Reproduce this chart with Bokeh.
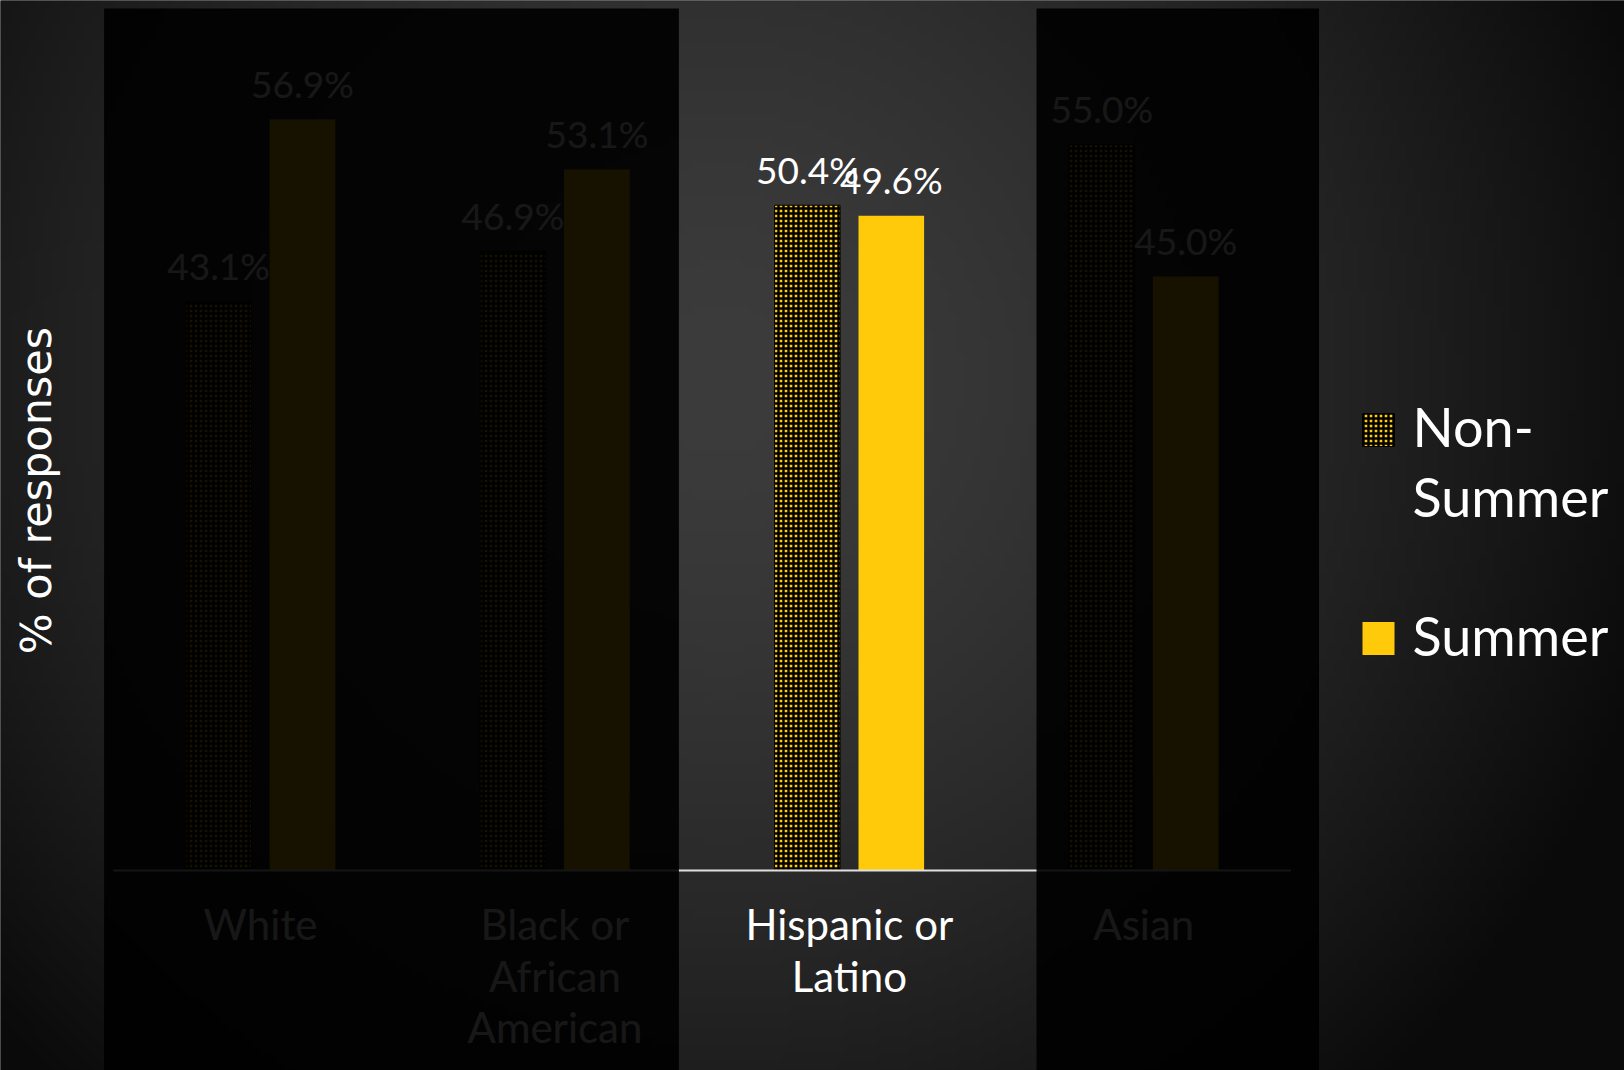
import numpy as np
from bokeh.plotting import figure
from bokeh.models import ColumnDataSource, Range1d
from bokeh.core.properties import value
from bokeh.transform import dodge
from bokeh.embed import file_html
from bokeh.resources import INLINE

# ---------------- data ----------------
categories = ["White", "Black or\nAfrican\nAmerican", "Hispanic or\nLatino", "Asian"]
non_summer = [43.1, 46.9, 50.4, 55.0]
summer = [56.9, 53.1, 49.6, 45.0]
series_names = ["Non-\nSummer", "Summer"]
y_title = "% of responses"

# ---------------- layout (pixels in figure space) ----------------
W, H = 1624, 1070
PX_X, X0 = 294.4, 260.05   # px per category, px of first category centre
PX_Y, Y0 = 13.2, 870.0     # px per percent, px of zero line

def fx(px):
    return (px - X0) / PX_X

def fy(py):
    return (Y0 - py) / PX_Y

YELLOW = "#FFCA0A"
OFF = 41.95 / PX_X
BW = 65.6 / PX_X
LABEL_GAP = 36 / PX_Y

p = figure(width=W, height=H, x_range=Range1d(fx(0), fx(W)), y_range=Range1d(fy(H), fy(0)),
           output_backend="svg", toolbar_location=None, title=None,
           x_axis_location=None, y_axis_location=None, min_border=0,
           outline_line_color=None, background_fill_color="#1c1c1c", border_fill_color="#1c1c1c")
p.grid.visible = False

# ---------------- background radial shading ----------------
gx = np.linspace(0, W, 204)
gy = np.linspace(0, H, 135)
GX, GY = np.meshgrid(gx, gy[::-1])
r = np.hypot((GX - 720) / 1000.0, (GY - 380) / 1000.0)
g = (60 - np.minimum(50, 52.7 * r ** 1.53)).astype(np.uint8)
img = np.empty(g.shape, dtype=np.uint32)
view = img.view(dtype=np.uint8).reshape(g.shape + (4,))
view[..., 0] = g
view[..., 1] = g
view[..., 2] = g
view[..., 3] = 255
p.image_rgba(image=[img], x=fx(0) - 0.02, y=fy(H) - 0.5, dw=fx(W) - fx(0) + 0.04, dh=fy(0) - fy(H) + 1.0)

# ---------------- bars ----------------
idx = np.arange(len(categories))
src = ColumnDataSource(dict(
    x=idx, cat=categories, ns=non_summer, s=summer,
    ns_lbl=[f"{v:.1f}%" for v in non_summer], s_lbl=[f"{v:.1f}%" for v in summer],
    ns_ly=np.array(non_summer) + LABEL_GAP, s_ly=np.array(summer) + LABEL_GAP,
))

hatch_kw = dict(hatch_pattern="cross", hatch_color="black", hatch_scale=5, hatch_weight=2.4)
p.vbar(x=dodge("x", -OFF), top="ns", bottom=0, width=BW, source=src,
       fill_color=YELLOW, line_color="black", line_width=1, **hatch_kw)
p.vbar(x=dodge("x", OFF), top="s", bottom=0, width=BW, source=src,
       fill_color=YELLOW, line_color=None)

lbl_kw = dict(text_font=value("Lato"), text_font_size=value("37px"), text_color="white",
              text_align="center", text_baseline="alphabetic")
p.text(x=dodge("x", -OFF), y="ns_ly", text="ns_lbl", source=src, **lbl_kw)
p.text(x=dodge("x", OFF), y="s_ly", text="s_lbl", source=src, **lbl_kw)

# category labels
p.text(x="x", y=fy(898.7), text="cat", source=src, text_font=value("Lato"),
       text_font_size=value("42px"), text_color="white", text_align="center",
       text_baseline="top", text_line_height=1.03)

# axis line
p.segment(x0=[idx[0] - 0.5], x1=[idx[-1] + 0.5], y0=[0], y1=[0], line_color="#e0e0e0", line_width=2)

# ---------------- dimming panels ----------------
p.quad(left=[fx(103.6), fx(1036)], right=[fx(678.4), fx(1318.5)],
       bottom=[fy(H) - 5, fy(H) - 5], top=[fy(8), fy(8)],
       fill_color="black", fill_alpha=0.91, line_color=None)

# ---------------- legend ----------------
p.rect(x=[fx(1378)], y=[fy(429.5)], width=32, height=33, width_units="screen", height_units="screen",
       fill_color=YELLOW, line_color="black", line_width=1, **hatch_kw)
p.rect(x=[fx(1378)], y=[fy(638)], width=32, height=33, width_units="screen", height_units="screen",
       fill_color=YELLOW, line_color=None)
p.text(x=[fx(1412), fx(1412)], y=[fy(393), fy(602)], text=series_names, text_font=value("Lato"),
       text_font_size=value("54px"), text_color="white", text_align="left", text_baseline="top",
       text_line_height=1.08)

# ---------------- y title ----------------
p.text(x=[fx(35.5)], y=[fy(490)], text=[y_title], angle=np.pi / 2, text_font=value("DejaVu Sans"),
       text_font_size=value("43px"), text_color="white", text_align="center", text_baseline="alphabetic")

open("out.html", "w").write(file_html(p, INLINE))
